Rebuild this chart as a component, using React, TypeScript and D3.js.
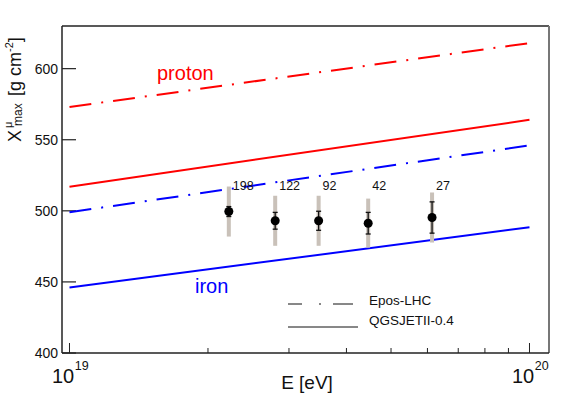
import React from 'react';
import * as d3 from 'd3';

// model lines, Xmax^mu at E = 1e19 and 1e20
const lineEnergies = [1e19, 1e20];
const protonEpos = [573, 618];
const protonQgs = [517, 564];
const ironEpos = [499, 546];
const ironQgs = [446, 488.5];

// data points
const energies = [2.22e19, 2.8e19, 3.48e19, 4.46e19, 6.14e19];
const xmax = [499.5, 493, 493, 491.3, 495.3];
const statErr = [3.5, 5.9, 6.7, 7.6, 11];
const sysUp = [17.6, 17.6, 17.6, 17.3, 17.6];
const sysDown = [17.6, 17.6, 17.6, 17.2, 17.6];
const counts = ['198', '122', '92', '42', '27'];

const yTicks = [400, 450, 500, 550, 600];
const xMinorTicks = [2e19, 3e19, 4e19, 5e19, 6e19, 7e19, 8e19, 9e19];
const xMajorTicks = [1e19, 1e20];

const FONT = '"Liberation Sans", Arial, Helvetica, sans-serif';
const DASHDOT = '22,10,2,10';

export default function App() {
  const left = 62, right = 549, top = 26, bottom = 353;

  // sets up the log x scale and linear y scale
  const x = d3.scaleLog()
    .domain([Math.pow(10, 18.9837), Math.pow(10, 20.0424)])
    .range([left, right]);
  const y = d3.scaleLinear().domain([400, 630]).range([bottom, top]);

  const line = d3.line<[number, number]>()
    .x(d => x(d[0]))
    .y(d => y(d[1]));
  const pts = (vals: number[]) => lineEnergies.map((e, i) => [e, vals[i]] as [number, number]);

  const models = [
    { vals: protonEpos, color: '#ff0000', dash: DASHDOT },
    { vals: protonQgs, color: '#ff0000', dash: undefined },
    { vals: ironEpos, color: '#0000ff', dash: DASHDOT },
    { vals: ironQgs, color: '#0000ff', dash: undefined },
  ];

  return (
    <svg width={581} height={399} style={{ position: 'absolute', left: 0, top: 0, background: 'white' }}
      fontFamily={FONT}>
      <rect x={0} y={0} width={581} height={399} fill="white" />

      {/* frame */}
      <line x1={left} y1={top} x2={right} y2={top} stroke="#222" strokeWidth={1.5} />
      <line x1={right} y1={top} x2={right} y2={bottom} stroke="#777" strokeWidth={2} />
      <line x1={left} y1={top} x2={left} y2={bottom} stroke="#222" strokeWidth={1.5} />
      <line x1={left} y1={bottom} x2={right} y2={bottom} stroke="#222" strokeWidth={1.5} />

      {/* y ticks */}
      {yTicks.map(t => (
        <g key={t}>
          <line x1={left} x2={left + 14} y1={y(t)} y2={y(t)} stroke="#222" strokeWidth={1.2} />
          <text x={left - 4} y={y(t)} dy="0.36em" textAnchor="end" fontSize={14} fill="#111">{t}</text>
        </g>
      ))}

      {/* x ticks */}
      {xMinorTicks.map(t => (
        <line key={t} x1={x(t)} x2={x(t)} y1={bottom} y2={bottom - 5} stroke="#222" strokeWidth={1} />
      ))}
      {xMajorTicks.map(t => (
        <g key={t}>
          <line x1={x(t)} x2={x(t)} y1={bottom} y2={bottom - 10} stroke="#222" strokeWidth={1} />
          <text x={x(t) - 17.5} y={383} fontSize={20} fill="#111">
            10<tspan fontSize={12.5} dy={-13} dx={0.5}>{Math.round(Math.log10(t))}</tspan>
          </text>
        </g>
      ))}

      {/* axis titles */}
      <text x={307} y={389} textAnchor="middle" fontSize={19} fill="#111">E [eV]</text>
      <g transform="translate(21,142) rotate(-90)" fill="#111">
        <text x={0} y={0} fontSize={18}>X</text>
        <text x={14} y={-9} fontSize={11}>μ</text>
        <text x={16} y={1} fontSize={12}>max</text>
        <text x={46} y={0} fontSize={18}>
          [g cm<tspan fontSize={11} dy={-8}>-2</tspan><tspan dy={8}>]</tspan>
        </text>
      </g>

      {/* model lines */}
      {models.map((m, i) => (
        <path key={i} d={line(pts(m.vals)) || ''} fill="none" stroke={m.color} strokeWidth={2}
          strokeDasharray={m.dash} />
      ))}
      <text x={157} y={80} fontSize={20} fill="#ff0000">proton</text>
      <text x={195} y={293} fontSize={20} fill="#0000ff">iron</text>

      {/* systematic errors */}
      {energies.map((e, i) => (
        <rect key={'s' + i} x={x(e) - 2} width={4} y={y(xmax[i] + sysUp[i])}
          height={y(xmax[i] - sysDown[i]) - y(xmax[i] + sysUp[i])} fill="#c9c1b9" />
      ))}
      {/* statistical errors */}
      {energies.map((e, i) => (
        <g key={'e' + i} stroke="#111" strokeWidth={1.3}>
          <line x1={x(e)} x2={x(e)} y1={y(xmax[i] + statErr[i])} y2={y(xmax[i] - statErr[i])} />
          <line x1={x(e) - 2.5} x2={x(e) + 2.5} y1={y(xmax[i] + statErr[i])} y2={y(xmax[i] + statErr[i])} />
          <line x1={x(e) - 2.5} x2={x(e) + 2.5} y1={y(xmax[i] - statErr[i])} y2={y(xmax[i] - statErr[i])} />
        </g>
      ))}
      {energies.map((e, i) => (
        <circle key={'c' + i} cx={x(e)} cy={y(xmax[i])} r={4.5} fill="#000" />
      ))}
      {energies.map((e, i) => (
        <text key={'n' + i} x={x(e) + 4} y={190} fontSize={12.5} fill="#111">{counts[i]}</text>
      ))}

      {/* legend */}
      <line x1={288} x2={353} y1={304} y2={304} stroke="#111" strokeWidth={1} strokeDasharray="14,17,2,12,20" />
      <text x={369} y={300} dy="0.36em" fontSize={13.5} fill="#111">Epos-LHC</text>
      <line x1={288} x2={358} y1={327} y2={327} stroke="#111" strokeWidth={1} />
      <text x={369} y={320} dy="0.36em" fontSize={13.5} fill="#111">QGSJETII-0.4</text>
    </svg>
  );
}
